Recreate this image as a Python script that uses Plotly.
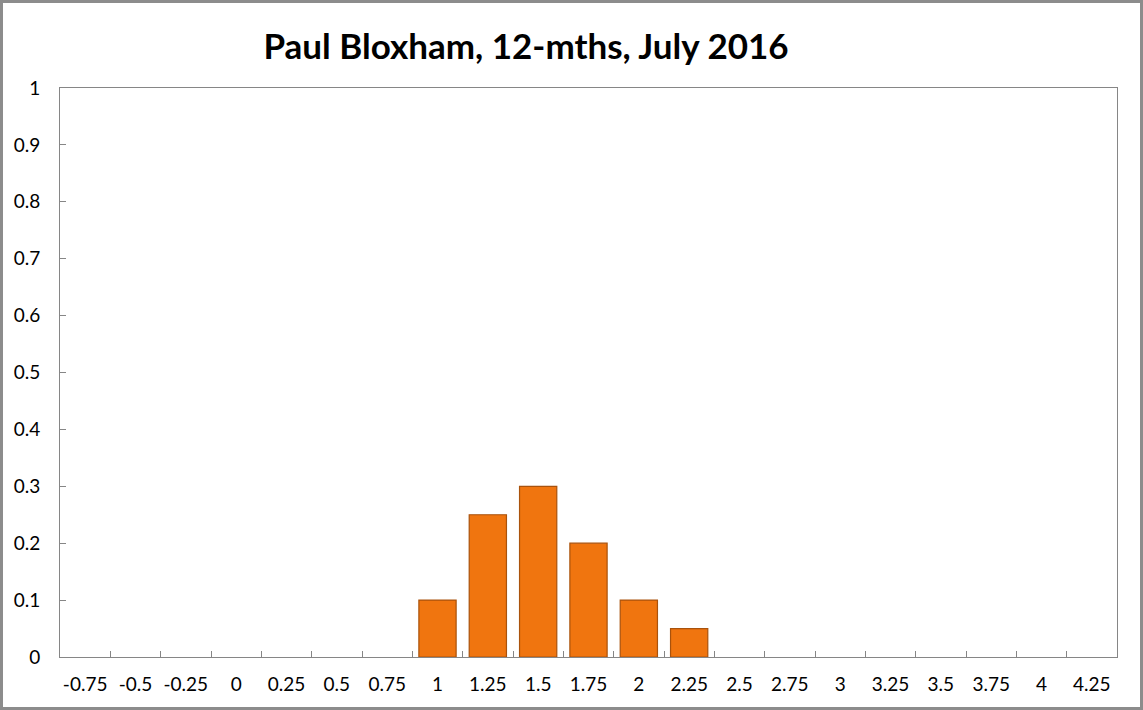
import plotly.graph_objects as go

# Categories and values
categories = ["-0.75", "-0.5", "-0.25", "0", "0.25", "0.5", "0.75", "1", "1.25", "1.5",
              "1.75", "2", "2.25", "2.5", "2.75", "3", "3.25", "3.5", "3.75", "4", "4.25"]
probabilities = [0, 0, 0, 0, 0, 0, 0, 0.1, 0.25, 0.3,
                 0.2, 0.1, 0.05, 0, 0, 0, 0, 0, 0, 0, 0]

W, H = 1143, 710
L, R, T, B = 60, 26, 88, 53
pw, ph = W - L - R, H - T - B

# no outline on empty bars
outline_w = [1.2 if p > 0 else 0 for p in probabilities]

fig = go.Figure(go.Bar(
    x=categories, y=probabilities,
    marker=dict(color="#F0750F", line=dict(color="#A9520C", width=outline_w)),
))

axis_line = "#868686"
fig.update_layout(
    width=W, height=H,
    margin=dict(l=L, r=R, t=T, b=B),
    paper_bgcolor="white", plot_bgcolor="white",
    bargap=0.26,
    showlegend=False,
    font=dict(family="Lato, Open Sans, sans-serif", size=19, color="black"),
    title=dict(text="<b>Paul Bloxham, 12-mths, July 2016</b>",
               x=526 / W, xanchor="center", xref="container",
               y=1 - 47 / H, yanchor="middle", yref="container",
               font=dict(size=35, color="black")),
    xaxis=dict(type="category", showline=True, mirror=True, linecolor=axis_line,
               ticks="inside", ticklen=6, tickcolor=axis_line, tickson="boundaries",
               showgrid=False, tickangle=0, tickfont=dict(size=19),
               ticklabelstandoff=10),
    yaxis=dict(range=[0, 1], dtick=0.1, showline=True, mirror=True, linecolor=axis_line,
               ticks="inside", ticklen=6, tickcolor=axis_line, showgrid=False,
               zeroline=False, tickfont=dict(size=19), ticklabelstandoff=15),
    shapes=[dict(type="rect", xref="paper", yref="paper",
                 x0=-(L - 1.5) / pw, x1=1 + (R - 1.5) / pw,
                 y0=-(B - 1.5) / ph, y1=1 + (T - 1.5) / ph,
                 line=dict(color="#8C8C8C", width=3))],
)

fig.write_html("out.html", config={"displayModeBar": False},
               post_script="document.body.style.margin='0';")
